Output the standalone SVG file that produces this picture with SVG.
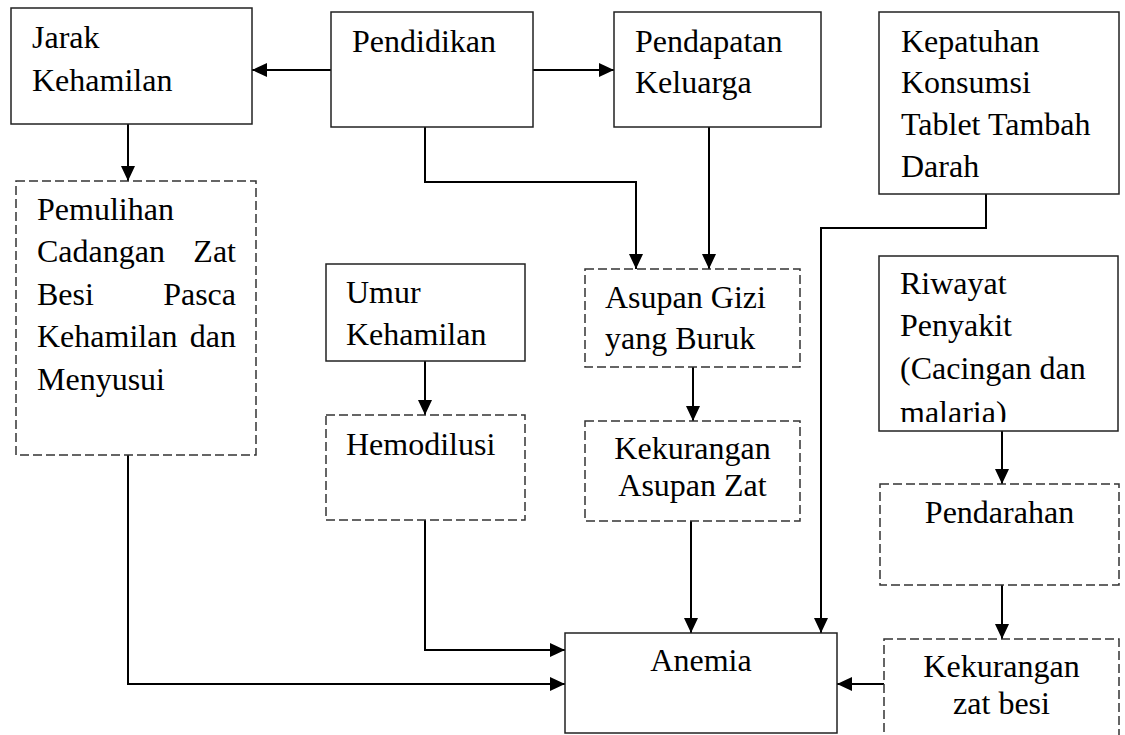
<svg xmlns="http://www.w3.org/2000/svg" width="1125" height="735" viewBox="0 0 1125 735">
<style>
.box{fill:#fff;stroke:#222;stroke-width:1.5}
.dash{fill:#fff;stroke:#333;stroke-width:1.5;stroke-dasharray:9 4}
text{font-family:"Liberation Serif","Times New Roman",serif;font-size:32px;fill:#000}
.c{text-anchor:middle}
.e{text-anchor:end}
.conn{fill:none;stroke:#000;stroke-width:2}
</style>
<defs>
<marker id="ah" markerUnits="userSpaceOnUse" markerWidth="15" markerHeight="14" refX="15" refY="7" orient="auto">
<path d="M0,0 L15,7 L0,14 z" fill="#000"/>
</marker>
<clipPath id="rclip"><rect x="879" y="256" width="240" height="166"/></clipPath>
</defs>

<g id="connectors">
<path class="conn" d="M331,70 H252" marker-end="url(#ah)"/>
<path class="conn" d="M533,70 H614" marker-end="url(#ah)"/>
<path class="conn" d="M128,124 V181" marker-end="url(#ah)"/>
<path class="conn" d="M425,127 V183 M425,182 H636 V269" marker-end="url(#ah)"/>
<path class="conn" d="M709,127 V269" marker-end="url(#ah)"/>
<path class="conn" d="M986,194 V228 H821 V633" marker-end="url(#ah)"/>
<path class="conn" d="M425,361 V415" marker-end="url(#ah)"/>
<path class="conn" d="M693,367 V421" marker-end="url(#ah)"/>
<path class="conn" d="M1002,431 V484" marker-end="url(#ah)"/>
<path class="conn" d="M1002,585 V639" marker-end="url(#ah)"/>
<path class="conn" d="M691,521 V633" marker-end="url(#ah)"/>
<path class="conn" d="M425,520 V650 H565" marker-end="url(#ah)"/>
<path class="conn" d="M128,455 V684 H565" marker-end="url(#ah)"/>
<path class="conn" d="M884,684 H837" marker-end="url(#ah)"/>
</g>

<g id="jarak">
<rect class="box" x="11" y="8" width="241" height="116"/>
<text x="32" y="48">Jarak</text>
<text x="32" y="91">Kehamilan</text>
</g>

<g id="pendidikan">
<rect class="box" x="331" y="12" width="202" height="115"/>
<text x="352" y="52">Pendidikan</text>
</g>

<g id="pendapatan">
<rect class="box" x="614" y="12" width="207" height="115"/>
<text x="635" y="52">Pendapatan</text>
<text x="635" y="93">Keluarga</text>
</g>

<g id="kepatuhan">
<rect class="box" x="879" y="12" width="240" height="182"/>
<text x="901" y="52">Kepatuhan</text>
<text x="901" y="93">Konsumsi</text>
<text x="901" y="135">Tablet Tambah</text>
<text x="901" y="177">Darah</text>
</g>

<g id="pemulihan">
<rect class="dash" x="16" y="181" width="240" height="274"/>
<text x="37" y="220">Pemulihan</text>
<text x="37" y="262">Cadangan</text>
<text class="e" x="236" y="262">Zat</text>
<text x="37" y="305">Besi</text>
<text class="e" x="236" y="305">Pasca</text>
<text x="37" y="347">Kehamilan</text>
<text class="e" x="236" y="347">dan</text>
<text x="37" y="390">Menyusui</text>
</g>

<g id="umur">
<rect class="box" x="326" y="264" width="199" height="97"/>
<text x="346" y="303">Umur</text>
<text x="346" y="345">Kehamilan</text>
</g>

<g id="hemodilusi">
<rect class="dash" x="326" y="415" width="199" height="105"/>
<text x="346" y="455">Hemodilusi</text>
</g>

<g id="asupan-gizi">
<rect class="dash" x="585" y="269" width="215" height="98"/>
<text x="605" y="308">Asupan Gizi</text>
<text x="605" y="349">yang Buruk</text>
</g>

<g id="kekurangan-asupan">
<rect class="dash" x="585" y="421" width="215" height="100"/>
<text class="c" x="692.5" y="459">Kekurangan</text>
<text class="c" x="692.5" y="496">Asupan Zat</text>
</g>

<g id="riwayat">
<rect class="box" x="879" y="256" width="239" height="175"/>
<g clip-path="url(#rclip)">
<text x="900" y="294">Riwayat</text>
<text x="900" y="336">Penyakit</text>
<text x="900" y="379">(Cacingan dan</text>
<text x="900" y="423">malaria)</text>
</g>
</g>

<g id="pendarahan">
<rect class="dash" x="880" y="484" width="239" height="101"/>
<text class="c" x="999.5" y="523">Pendarahan</text>
</g>

<g id="kekurangan-besi">
<rect class="dash" x="884" y="639" width="235" height="130"/>
<text class="c" x="1001.5" y="677">Kekurangan</text>
<text class="c" x="1001.5" y="714">zat besi</text>
</g>

<g id="anemia">
<rect class="box" x="565" y="633" width="272" height="100"/>
<text class="c" x="701" y="671">Anemia</text>
</g>
</svg>
